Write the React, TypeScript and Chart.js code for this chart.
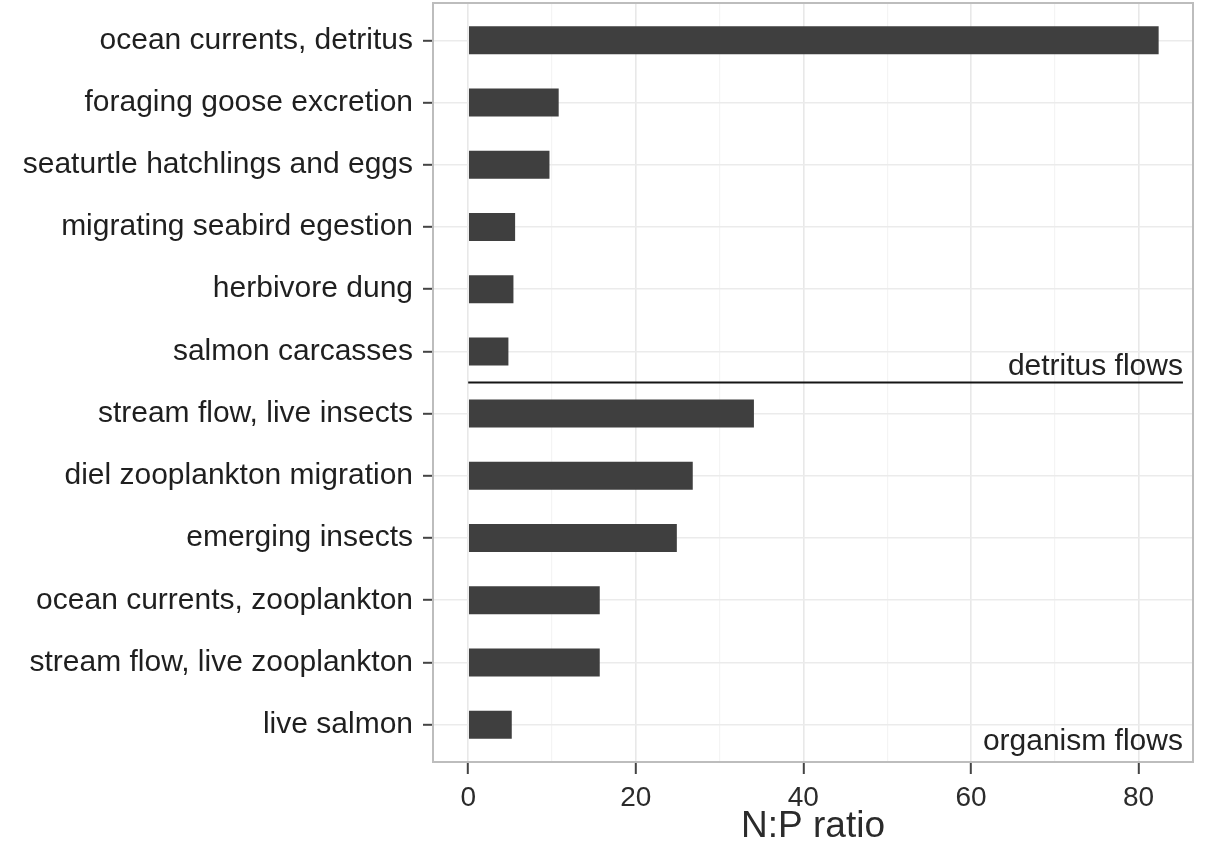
import React, { useEffect, useRef } from "react";
import { Chart, registerables } from "chart.js";

Chart.register(...registerables);

const CATEGORIES = [
  "ocean currents, detritus",
  "foraging goose excretion",
  "seaturtle hatchlings and eggs",
  "migrating seabird egestion",
  "herbivore dung",
  "salmon carcasses",
  "stream flow, live insects",
  "diel zooplankton migration",
  "emerging insects",
  "ocean currents, zooplankton",
  "stream flow, live zooplankton",
  "live salmon",
];
const NP_RATIO = [82.4, 10.8, 9.7, 5.6, 5.4, 4.8, 34.1, 26.8, 24.9, 15.7, 15.7, 5.2];

const X_TICKS = [0, 10, 20, 30, 40, 50, 60, 70, 80];
const X_LABELED = [0, 20, 40, 60, 80];
const X_MIN = -4.2;
const X_MAX = 86.5;
const Y_MIN = -0.6;
const Y_MAX = 11.6;

const X_TITLE = "N:P ratio";
const GROUP_LABELS = ["detritus flows", "organism flows"];
const GROUP_LABEL_POS = [5.38, 11.4];
const SEPARATOR_POS = 5.5;
const SEPARATOR_END = 85.3;

const FONT = "'Liberation Sans', Arial, Helvetica, sans-serif";

export default function App() {
  const canvasRef = useRef<HTMLCanvasElement | null>(null);

  useEffect(() => {
    document.body.style.margin = "0";
    const canvas = canvasRef.current;
    if (!canvas) return;

    const panelPlugin = {
      id: "panelDecor",
      afterDatasetsDraw(chart: any) {
        const { ctx, scales } = chart;
        const x = scales.x;
        const y = scales.y;
        ctx.save();
        const yy = y.getPixelForValue(SEPARATOR_POS);
        ctx.strokeStyle = "#151515";
        ctx.lineWidth = 2;
        ctx.beginPath();
        ctx.moveTo(x.getPixelForValue(0), yy);
        ctx.lineTo(x.getPixelForValue(SEPARATOR_END), yy);
        ctx.stroke();
        ctx.fillStyle = "#222";
        ctx.font = `30px ${FONT}`;
        ctx.textAlign = "right";
        ctx.textBaseline = "alphabetic";
        GROUP_LABELS.forEach((t, i) => {
          ctx.fillText(t, x.getPixelForValue(SEPARATOR_END), y.getPixelForValue(GROUP_LABEL_POS[i]));
        });
        ctx.restore();
      },
      afterDraw(chart: any) {
        const { ctx, chartArea: a } = chart;
        ctx.save();
        ctx.strokeStyle = "#bdbdbd";
        ctx.lineWidth = 2;
        ctx.strokeRect(a.left, a.top, a.right - a.left, a.bottom - a.top);
        ctx.restore();
      },
    };

    const chart = new Chart(canvas, {
      type: "bar",
      data: {
        datasets: [
          {
            data: NP_RATIO.map((v, i) => ({ x: v, y: i })),
            backgroundColor: "#3f3f3f",
            borderWidth: 0,
            barPercentage: 0.45,
            categoryPercentage: 1,
          },
        ],
      },
      options: {
        indexAxis: "y",
        responsive: false,
        animation: false,
        layout: { padding: { top: 3, right: 14, left: 0, bottom: 0 } },
        plugins: { legend: { display: false }, tooltip: { enabled: false } },
        scales: {
          x: {
            type: "linear",
            min: X_MIN,
            max: X_MAX,
            afterBuildTicks: (scale: any) => {
              scale.ticks = X_TICKS.map((v) => ({ value: v }));
            },
            afterFit: (scale: any) => {
              scale.height = 85;
            },
            border: { display: false },
            grid: {
              color: (c: any) => (X_LABELED.includes(c.tick?.value) ? "#e8e8e8" : "#f4f4f4"),
              lineWidth: (c: any) => (X_LABELED.includes(c.tick?.value) ? 1.6 : 1.2),
              tickColor: (c: any) => (X_LABELED.includes(c.tick?.value) ? "#444" : "rgba(0,0,0,0)"),
              tickWidth: 2,
              tickLength: 12,
              drawTicks: true,
            },
            ticks: {
              autoSkip: false,
              maxRotation: 0,
              padding: 7,
              color: "#2b2b2b",
              font: { family: FONT, size: 28 },
              callback: (v: any) => (X_LABELED.includes(Number(v)) ? String(v) : ""),
            },
            title: {
              display: true,
              text: X_TITLE,
              color: "#2b2b2b",
              font: { family: FONT, size: 37, lineHeight: 1.1 },
              padding: { top: 0, bottom: 0 },
            },
          },
          y: {
            type: "linear",
            min: Y_MIN,
            max: Y_MAX,
            reverse: true,
            offset: false,
            afterBuildTicks: (scale: any) => {
              scale.ticks = CATEGORIES.map((_, i) => ({ value: i }));
            },
            afterFit: (scale: any) => {
              scale.width = 433;
              scale.paddingTop = 0;
              scale.paddingBottom = 0;
            },
            border: { display: false },
            grid: {
              offset: false,
              color: "#ebebeb",
              lineWidth: 1.6,
              tickColor: "#444",
              tickWidth: 2,
              tickLength: 10,
            },
            ticks: {
              autoSkip: false,
              padding: 10,
              color: "#1f1f1f",
              font: { family: FONT, size: 30 },
              callback: (v: any) => CATEGORIES[Number(v)] ?? "",
            },
          },
        },
      },
      plugins: [panelPlugin],
    } as any);

    return () => chart.destroy();
  }, []);

  return (
    <div style={{ width: 1207, height: 847 }}>
      <canvas ref={canvasRef} width={1207} height={847} style={{ display: "block" }} />
    </div>
  );
}
